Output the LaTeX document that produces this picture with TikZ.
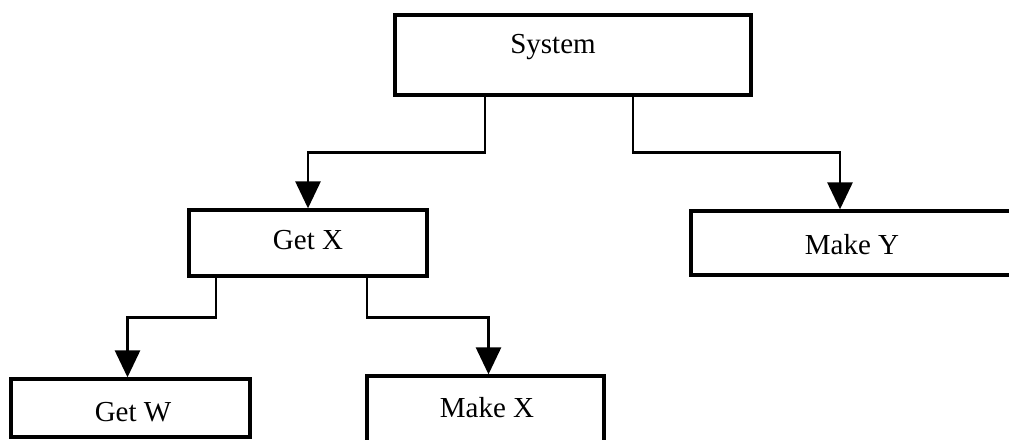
\documentclass[tikz,border=0pt]{standalone}
\usepackage{fontspec}
\setmainfont{Liberation Serif}
\usetikzlibrary{arrows.meta}
\begin{document}
\begin{tikzpicture}[x=1pt,y=-1pt,
  box/.style={draw, line width=3.3pt, inner sep=0pt},
  lbl/.style={inner sep=0pt, font=\fontsize{29}{32}\selectfont},
  conn/.style={line width=2.8pt, -{Triangle[width=25pt,length=27pt]}}]
\useasboundingbox (0,0) rectangle (1009,439);
\clip (0,0) rectangle (1009,439);
% boxes
\node[box, minimum width=356pt, minimum height=80pt] (sys) at (573,55) {};
\node[box, minimum width=238pt, minimum height=66pt] (getx) at (308,243) {};
\node[box, minimum width=322pt, minimum height=64pt] (makey) at (852,243) {};
\node[box, minimum width=239pt, minimum height=58pt] (getw) at (130.5,408) {};
\node[box, minimum width=237pt, minimum height=66pt] (makex) at (485.5,409) {};
% texts
\node[lbl] (sysT) at (553,47) {System};
\node[lbl] (getxT) at (308,240) {Get X};
\node[lbl] (makeyT) at (852,245) {Make Y};
\node[lbl] (getwT) at (133,412) {Get W};
\node[lbl] (makexT) at (487,408) {Make X};
% connectors
\draw[conn] ([xshift=-88pt]sys.south) -- ++(0,56) -| (getx.north);
\draw[conn] ([xshift=60pt]sys.south) -- ++(0,56) -| ([xshift=-12pt]makey.north);
\draw[conn] ([xshift=-92pt]getx.south) -- ++(0,40) -| ([xshift=-3pt]getw.north);
\draw[conn] ([xshift=59pt]getx.south) -- ++(0,40) -| ([xshift=3pt]makex.north);
\end{tikzpicture}
\end{document}
